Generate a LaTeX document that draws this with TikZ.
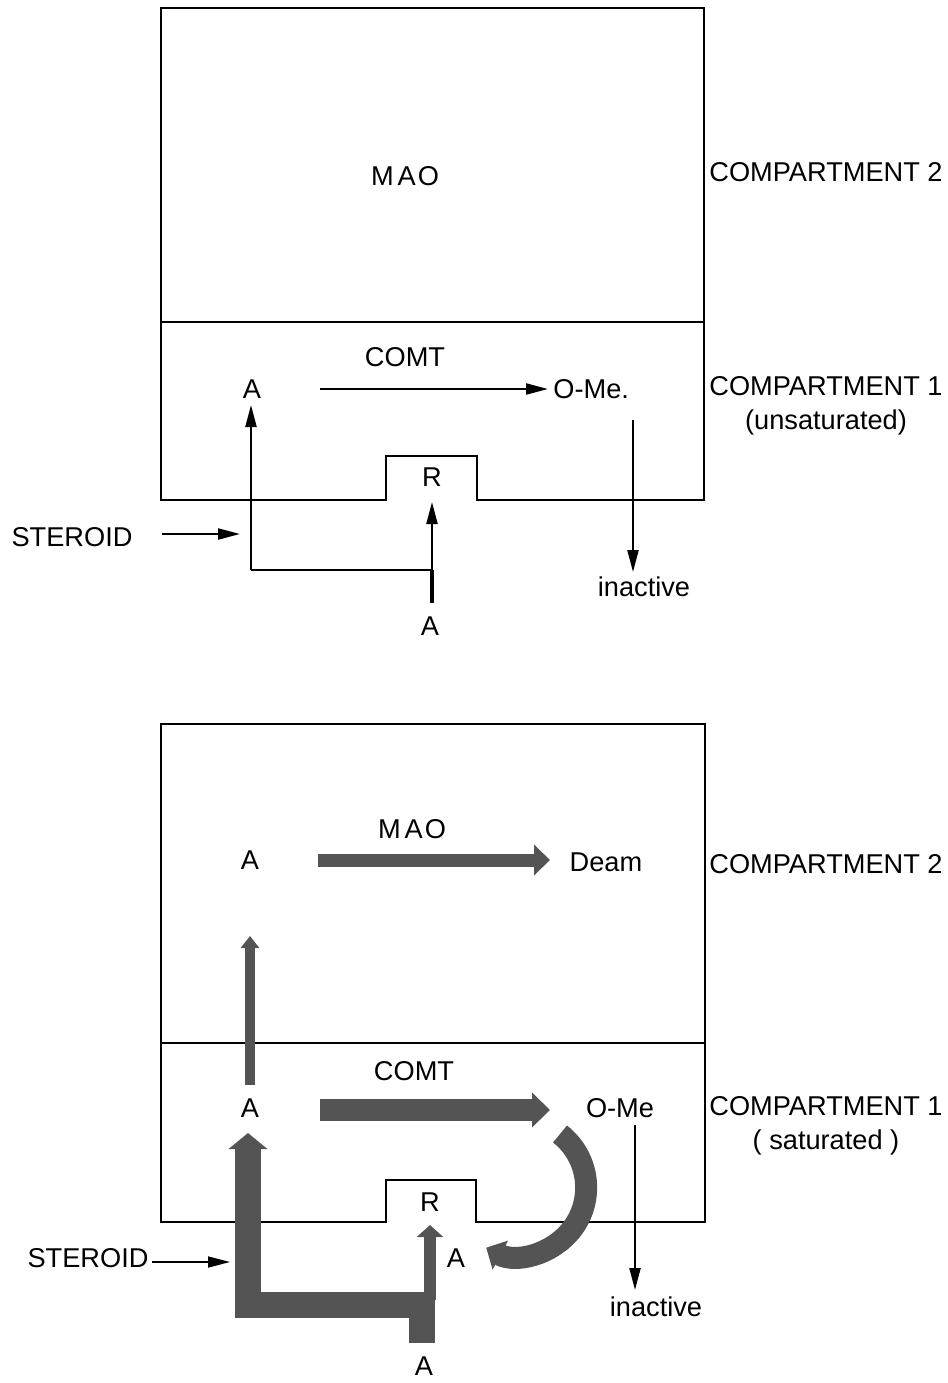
\documentclass[tikz,border=0pt]{standalone}
\usepackage{fontspec}
\setmainfont{Liberation Sans}
\usepackage{tikz}
\usetikzlibrary{arrows.meta}
\definecolor{bandgray}{gray}{0.33}

\begin{document}
\begin{tikzpicture}[x=0.5pt, y=-0.5pt,
  wall/.style={line width=1pt, line join=miter},
  flow/.style={line width=1.1pt, -{Triangle[length=11pt, width=5.5pt]}},
  band/.style={draw=bandgray, line join=miter, line cap=butt},
  label/.style={font=\fontsize{13.6}{17}\selectfont, inner sep=0pt}
]

\useasboundingbox (0,0) rectangle (948,1383);

%% ================= upper diagram (unsaturated) =================

%% --- compartment walls with receptor notch ---
\draw[wall] (161,8) -- (704,8) -- (704,500) -- (477,500) -- (477,456)
  -- (386,456) -- (386,500) -- (161,500) -- cycle;
\draw[wall] (161,322) -- (704,322);

%% --- labels ---
\node[label] (maoU)      at (405,176) {M\kern2pt A\kern1pt O};
\node[label] (comp2U)    at (826,172) {COMPARTMENT 2};
\node[label] (comtU)     at (405,357) {COMT};
\node[label] (aU)        at (252,389) {A};
\node[label, anchor=west] (omeU) at (553,389) {O-Me.};
\node[label, align=center] (comp1U) at (826,406)
  {COMPARTMENT 1\\(unsaturated)};
\node[label] (rU)        at (432,477) {R};
\node[label] (aInU)      at (430,626) {A};
\node[label] (steroidU)  at (72,537)  {STEROID};
\node[label] (inactiveU) at (644,587) {inactive};

%% --- arrow end points ---
\coordinate (comtUfrom) at (320,389);
\coordinate (comtUto)   at (548,389);
\coordinate (outUfrom)  at (633,420);
\coordinate (outUto)    at (633,572);
\coordinate (stubU)     at (432,603);
\coordinate (splitU)    at (432,570);
\coordinate (cornerU)   at (251,570);
\coordinate (aUtip)     at (251,405);
\coordinate (rUtip)     at (432,502);
\coordinate (stUfrom)   at (162,534);
\coordinate (stUto)     at (240,534);

%% --- thin pathways ---
\draw[flow] (comtUfrom) -- (comtUto);
\draw[flow] (outUfrom) -- (outUto);
\draw[line width=2.2pt] (stubU) -- (splitU);
\draw[flow] (splitU) -- (rUtip);
\draw[line width=1.1pt] (splitU) -- (cornerU);
\draw[flow] (cornerU) -- (aUtip);
\draw[flow] (stUfrom) -- (stUto);

%% ================= lower diagram (saturated) =================

%% --- compartment walls with receptor notch ---
\draw[wall] (161,724) -- (705,724) -- (705,1222) -- (476,1222) -- (476,1180)
  -- (386,1180) -- (386,1222) -- (161,1222) -- cycle;
\draw[wall] (161,1043) -- (705,1043);

%% --- labels ---
\node[label] (maoL)      at (412,829)  {M\kern2pt A\kern1pt O};
\node[label] (aTopL)     at (250,860)  {A};
\node[label] (deamL)     at (606,862)  {Deam};
\node[label] (comp2L)    at (826,864)  {COMPARTMENT 2};
\node[label] (comtL)     at (414,1071) {COMT};
\node[label] (aMidL)     at (250,1108) {A};
\node[label] (omeL)      at (620,1108) {O-Me};
\node[label, align=center] (comp1L) at (826,1126)
  {COMPARTMENT 1\\( saturated )};
\node[label] (rL)        at (430,1202) {R};
\node[label] (aRetL)     at (456,1258) {A};
\node[label] (aInL)      at (424,1366) {A};
\node[label] (steroidL)  at (88,1258)  {STEROID};
\node[label] (inactiveL) at (656,1307) {inactive};

%% --- arrow end points ---
\coordinate (maoLfrom)  at (318,860);
\coordinate (maoLto)    at (550,860);
\coordinate (upLfrom)   at (250,1085);
\coordinate (upLto)     at (250,936);
\coordinate (comtLfrom) at (320,1110);
\coordinate (comtLto)   at (550,1110);
\coordinate (stemL)     at (422,1343);
\coordinate (kneeL)     at (422,1305);
\coordinate (cornerL)   at (248,1305);
\coordinate (aLtip)     at (248,1133);
\coordinate (rLfrom)    at (430,1300);
\coordinate (rLtip)     at (430,1225);
\coordinate (backL)     at (560,1134);
\coordinate (outLfrom)  at (635,1125);
\coordinate (outLto)    at (635,1290);
\coordinate (stLfrom)   at (152,1262);
\coordinate (stLto)     at (230,1262);

%% --- saturated (thick) pathways ---
\draw[band, line width=6.5pt, -{Triangle[length=8pt, width=15pt]}]
  (maoLfrom) -- (maoLto);
\draw[band, line width=5pt, -{Triangle[length=6pt, width=9pt]}]
  (upLfrom) -- (upLto);
\draw[band, line width=11pt, -{Triangle[length=9pt, width=17pt]}]
  (comtLfrom) -- (comtLto);
\draw[band, line width=13pt, -{Triangle[length=8pt, width=19pt]}]
  (stemL) -- (kneeL) -- (cornerL) -- (aLtip);
\draw[band, line width=6pt, -{Triangle[length=6pt, width=13pt]}]
  (rLfrom) -- (rLtip);
\draw[band, line width=11pt, -{Triangle[length=8pt, width=16pt]}]
  (backL) arc[start angle=-52, end angle=118, radius=68];

%% --- thin pathways ---
\draw[flow] (outLfrom) -- (outLto);
\draw[flow, line width=0.8pt] (stLfrom) -- (stLto);

\end{tikzpicture}
\end{document}
